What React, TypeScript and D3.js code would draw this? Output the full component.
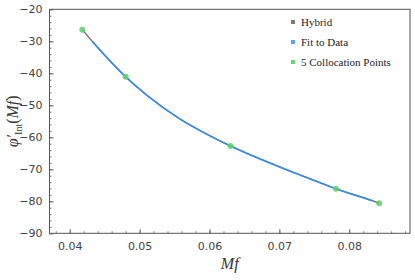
import React, { useEffect, useRef } from 'react';
import * as d3 from 'd3';

const WIDTH = 415;
const HEIGHT = 280;
const MARGIN_TOP = 9.3;
const MARGIN_RIGHT = 5;
const MARGIN_BOTTOM = 46.7;
const MARGIN_LEFT = 49.5;

// values
const hybridMf = [0.0418, 0.04325, 0.0480, 0.0510, 0.0558, 0.0596, 0.0630, 0.0694, 0.0742, 0.0781, 0.0833, 0.0843];
const hybridPhi = [-26.4, -30.1, -41.1, -46.8, -54.3, -59.0, -62.7, -68.7, -72.8, -76.1, -79.8, -80.6];

const fitMf = [0.04325, 0.0480, 0.0510, 0.0558, 0.0596, 0.0630, 0.0694, 0.0742, 0.0781, 0.0833];
const fitPhi = [-30.1, -41.1, -46.8, -54.3, -59.0, -62.7, -68.7, -72.8, -76.1, -79.8];

const colloMf = [0.0418, 0.0480, 0.0630, 0.0781, 0.0843];
const colloPhi = [-26.4, -41.1, -62.7, -76.1, -80.6];

const xTicks = [0.04, 0.05, 0.06, 0.07, 0.08];
const yTicks = [-90, -80, -70, -60, -50, -40, -30, -20];
const legendLabels = ['Hybrid', 'Fit to Data', '5 Collocation Points'];
const legendColors = ['#7a7a7a', '#5aa5f2', '#6cd27c'];

const HYBRID_COLOR = '#6b6b6b';
const FIT_COLOR = '#3a8ee6';
const POINT_COLOR = '#5fcf6e';

const Chart = () => {
  const ref = useRef<SVGSVGElement>(null);

  useEffect(() => {
    if (ref.current === null) return;
    ref.current.replaceChildren();

    const x = d3.scaleLinear().domain([0.0371, 0.0887]).range([MARGIN_LEFT, WIDTH - MARGIN_RIGHT]);
    const y = d3.scaleLinear().domain([-90, -20]).range([HEIGHT - MARGIN_BOTTOM, MARGIN_TOP]);

    const svg = d3.select(ref.current).attr('width', WIDTH).attr('height', HEIGHT);

    const line = d3
      .line<[number, number]>()
      .x((d) => x(d[0]))
      .y((d) => y(d[1]))
      .curve(d3.curveMonotoneX);

    // Hybrid curve (underneath)
    svg
      .append('path')
      .attr('d', line(hybridMf.map((m, i) => [m, hybridPhi[i]])))
      .attr('fill', 'none')
      .attr('stroke', HYBRID_COLOR)
      .attr('stroke-width', 1.4);

    // Fit to data
    svg
      .append('path')
      .attr('d', line(fitMf.map((m, i) => [m, fitPhi[i]])))
      .attr('fill', 'none')
      .attr('stroke', FIT_COLOR)
      .attr('stroke-width', 1.6);

    // Collocation points
    svg
      .append('g')
      .selectAll('circle')
      .data(colloMf.map((m, i) => [m, colloPhi[i]]))
      .join('circle')
      .attr('cx', (d) => x(d[0]))
      .attr('cy', (d) => y(d[1]))
      .attr('r', 3)
      .attr('fill', POINT_COLOR)
      .attr('fill-opacity', 0.85);

    // Frame
    const [x0, x1] = x.range();
    const [y0, y1] = y.range();
    svg
      .append('rect')
      .attr('x', x0)
      .attr('y', y1)
      .attr('width', x1 - x0)
      .attr('height', y0 - y1)
      .attr('fill', 'none')
      .attr('stroke', '#555')
      .attr('stroke-width', 1);

    const fmtY = (v: number) => (v < 0 ? '\u2212' + Math.abs(v) : String(v));

    // Bottom axis
    svg
      .append('g')
      .attr('transform', `translate(0, ${y0})`)
      .call(
        d3
          .axisBottom(x)
          .tickValues(xTicks)
          .tickSize(-4)
          .tickPadding(9)
          .tickFormat((d) => d3.format('.2f')(d as number)),
      )
      .call((g) => g.select('.domain').remove())
      .call((g) => g.selectAll('line').attr('stroke', '#555'))
      .call((g) => g.selectAll('text').attr('font-size', 11).attr('fill', '#444').attr('font-family', 'DejaVu Sans'));

    svg
      .append('g')
      .attr('transform', `translate(0, ${y0})`)
      .call(d3.axisBottom(x).tickValues(d3.range(0.038, 0.0887, 0.002)).tickSize(-2).tickFormat(() => ''))
      .call((g) => g.select('.domain').remove())
      .call((g) => g.selectAll('line').attr('stroke', '#777'));

    // Left axis
    svg
      .append('g')
      .attr('transform', `translate(${x0}, 0)`)
      .call(d3.axisLeft(y).tickValues(yTicks).tickSize(-4).tickPadding(7).tickFormat((d) => fmtY(d as number)))
      .call((g) => g.select('.domain').remove())
      .call((g) => g.selectAll('line').attr('stroke', '#555'))
      .call((g) => g.selectAll('text').attr('font-size', 11).attr('fill', '#444').attr('font-family', 'DejaVu Sans'));

    svg
      .append('g')
      .attr('transform', `translate(${x0}, 0)`)
      .call(d3.axisLeft(y).tickValues(d3.range(-90, -19, 2)).tickSize(-2).tickFormat(() => ''))
      .call((g) => g.select('.domain').remove())
      .call((g) => g.selectAll('line').attr('stroke', '#777'));

    // Axis labels
    svg
      .append('text')
      .attr('x', (x0 + x1) / 2)
      .attr('y', 269)
      .attr('text-anchor', 'middle')
      .attr('font-family', 'Liberation Serif')
      .attr('font-style', 'italic')
      .attr('font-size', 16)
      .attr('fill', '#333')
      .text('Mf');

    const yl = svg
      .append('text')
      .attr('transform', `translate(18, ${(y0 + y1) / 2}) rotate(-90)`)
      .attr('text-anchor', 'middle')
      .attr('font-family', 'Liberation Serif')
      .attr('font-size', 16)
      .attr('fill', '#333');
    yl.append('tspan').attr('font-style', 'italic').text('\u03c6\u2032');
    yl.append('tspan').attr('font-size', 10).attr('dy', 4).text('Int');
    yl.append('tspan').attr('dy', -4).text('(');
    yl.append('tspan').attr('font-style', 'italic').text('Mf');
    yl.append('tspan').text(')');

    // Legend
    const legend = svg
      .append('g')
      .selectAll('g')
      .data(legendLabels)
      .join('g')
      .attr('transform', (_, i) => `translate(293, ${22 + i * 20})`);
    legend
      .append('rect')
      .attr('x', -2)
      .attr('y', -2)
      .attr('width', 4)
      .attr('height', 4)
      .attr('fill', (_, i) => legendColors[i]);
    legend
      .append('text')
      .attr('x', 8)
      .attr('y', 3.5)
      .attr('font-family', 'Liberation Serif')
      .attr('font-size', 11)
      .attr('fill', '#222')
      .text((d) => d);
  }, []);

  return <svg ref={ref} style={{ display: 'block' }} />;
};

export default function App() {
  return (
    <div style={{ position: 'fixed', left: 0, top: 0, background: '#fff' }}>
      <Chart />
    </div>
  );
}
